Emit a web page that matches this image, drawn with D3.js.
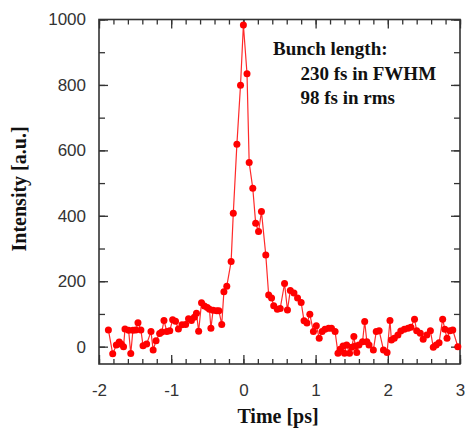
<!DOCTYPE html>
<html>
<head>
<meta charset="utf-8">
<script src="https://cdn.jsdelivr.net/npm/d3@7"></script>
<style>
  body { margin: 0; background: #fff; }
  .tick text { font-family: "Liberation Sans", Arial, sans-serif; font-size: 17px; fill: #333; }
  .lbl { font-family: "Liberation Serif", "Times New Roman", serif; font-weight: bold; fill: #111; }
</style>
</head>
<body>
<div id="chart"></div>
<script>
// time in ps
const time = [-1.87,-1.81,-1.76,-1.72,-1.69,-1.66,-1.64,-1.59,-1.56,-1.53,-1.49,-1.46,-1.42,-1.39,-1.34,
  -1.28,-1.25,-1.21,-1.16,-1.13,-1.10,-1.06,-1.02,-0.98,-0.94,-0.90,-0.85,-0.80,-0.76,-0.72,-0.68,-0.65,
  -0.62,-0.58,-0.54,-0.50,-0.47,-0.45,-0.42,-0.37,-0.34,-0.30,-0.27,-0.23,-0.17,-0.14,-0.09,-0.04,0.00,
  0.05,0.08,0.13,0.17,0.21,0.25,0.31,0.35,0.39,0.42,0.47,0.51,0.57,0.61,0.65,0.70,0.75,0.80,0.84,0.88,
  0.92,0.97,1.01,1.05,1.09,1.13,1.18,1.22,1.27,1.31,1.34,1.38,1.40,1.43,1.47,1.50,1.53,1.55,1.57,1.60,
  1.65,1.68,1.71,1.74,1.80,1.84,1.88,1.94,1.99,2.03,2.05,2.09,2.14,2.18,2.23,2.28,2.32,2.37,2.40,2.45,
  2.49,2.54,2.59,2.63,2.67,2.71,2.76,2.79,2.82,2.86,2.90,2.97];
// intensity in a.u.
const intensity = [51,-22,5,14,7,0,54,50,-21,50,51,73,51,3,8,
  46,-10,18,40,45,80,46,49,82,78,54,67,68,85,80,90,102,
  47,134,124,120,114,56,111,110,110,68,168,185,260,408,619,799,983,
  834,563,484,377,352,413,280,158,149,125,114,117,193,112,172,164,149,135,79,72,
  99,46,64,26,46,53,56,56,46,-20,-8,2,-20,5,-20,-2,31,2,-18,5,
  15,77,15,5,-10,46,49,-10,-18,80,20,26,36,48,53,56,59,84,49,41,
  23,36,49,-2,5,12,84,53,26,49,51,0];

const xTicks = [-2, -1, 0, 1, 2, 3];
const yTicks = [0, 200, 400, 600, 800, 1000];

const data = time.map((t, i) => ({ t: t, v: intensity[i] }));

const margin = { top: 19.5, right: 5, bottom: 67, left: 99 },
  width = 465 - margin.left - margin.right,
  height = 431 - margin.top - margin.bottom;

const svg = d3.select("#chart")
  .append("svg")
  .attr("width", 465)
  .attr("height", 431)
  .append("g")
  .attr("transform", `translate(${margin.left},${margin.top})`);

const x = d3.scaleLinear().domain([-2, 3]).range([0, width]);
const y = d3.scaleLinear().domain([-53, 1000]).range([height, 0]);

// minor ticks (inward, all four sides)
const xMinor = d3.range(-2, 3.001, 0.2).map(d => +d.toFixed(1));
const yMinor = d3.range(0, 1001, 100);

const axisStyle = g => {
  g.select(".domain").remove();
  g.selectAll(".tick line").attr("stroke", "#333").attr("stroke-width", 1.3);
};

svg.append("g").attr("transform", `translate(0,${height})`)
  .call(d3.axisBottom(x).tickValues(xMinor).tickSize(-5).tickFormat(""))
  .call(axisStyle);
svg.append("g")
  .call(d3.axisTop(x).tickValues(xMinor).tickSize(-5).tickFormat(""))
  .call(axisStyle);
svg.append("g")
  .call(d3.axisLeft(y).tickValues(yMinor).tickSize(-6).tickFormat(""))
  .call(axisStyle);
svg.append("g").attr("transform", `translate(${width},0)`)
  .call(d3.axisRight(y).tickValues(yMinor).tickSize(-6).tickFormat(""))
  .call(axisStyle);

// major ticks with labels
svg.append("g").attr("transform", `translate(0,${height})`)
  .call(d3.axisBottom(x).tickValues(xTicks).tickSize(-9).tickPadding(20).tickFormat(d => String(d)))
  .call(axisStyle);
svg.append("g")
  .call(d3.axisTop(x).tickValues(xTicks).tickSize(-9).tickFormat(""))
  .call(axisStyle);
svg.append("g")
  .call(d3.axisLeft(y).tickValues(yTicks).tickSize(-9).tickPadding(13).tickFormat(d => String(d)))
  .call(axisStyle);
svg.append("g").attr("transform", `translate(${width},0)`)
  .call(d3.axisRight(y).tickValues(yTicks).tickSize(-9).tickFormat(""))
  .call(axisStyle);

// frame
svg.append("rect")
  .attr("width", width)
  .attr("height", height)
  .attr("fill", "none")
  .attr("stroke", "#333")
  .attr("stroke-width", 1.6);

// line + points
svg.append("path")
  .datum(data)
  .attr("fill", "none")
  .attr("stroke", "#ff2a2a")
  .attr("stroke-width", 1.2)
  .attr("d", d3.line().x(d => x(d.t)).y(d => y(d.v)));

svg.selectAll("circle.pt")
  .data(data)
  .enter()
  .append("circle")
  .attr("class", "pt")
  .attr("cx", d => x(d.t))
  .attr("cy", d => y(d.v))
  .attr("r", 3.5)
  .attr("fill", "#ff0000");

// axis titles
svg.append("text")
  .attr("class", "lbl")
  .attr("x", x(0.48))
  .attr("y", height + 59)
  .attr("text-anchor", "middle")
  .style("font-size", "20px")
  .text("Time [ps]");

svg.append("text")
  .attr("class", "lbl")
  .attr("transform", `translate(${-73},${y(482)}) rotate(-90)`)
  .attr("text-anchor", "middle")
  .style("font-size", "20px")
  .text("Intensity [a.u.]");

// annotation
const note = svg.append("text").attr("class", "lbl").style("font-size", "19px");
note.append("tspan").attr("x", x(0.41)).attr("y", y(891)).text("Bunch length:");
note.append("tspan").attr("x", x(0.79)).attr("y", y(815)).text("230 fs in FWHM");
note.append("tspan").attr("x", x(0.79)).attr("y", y(742)).text("98 fs in rms");
</script>
</body>
</html>
